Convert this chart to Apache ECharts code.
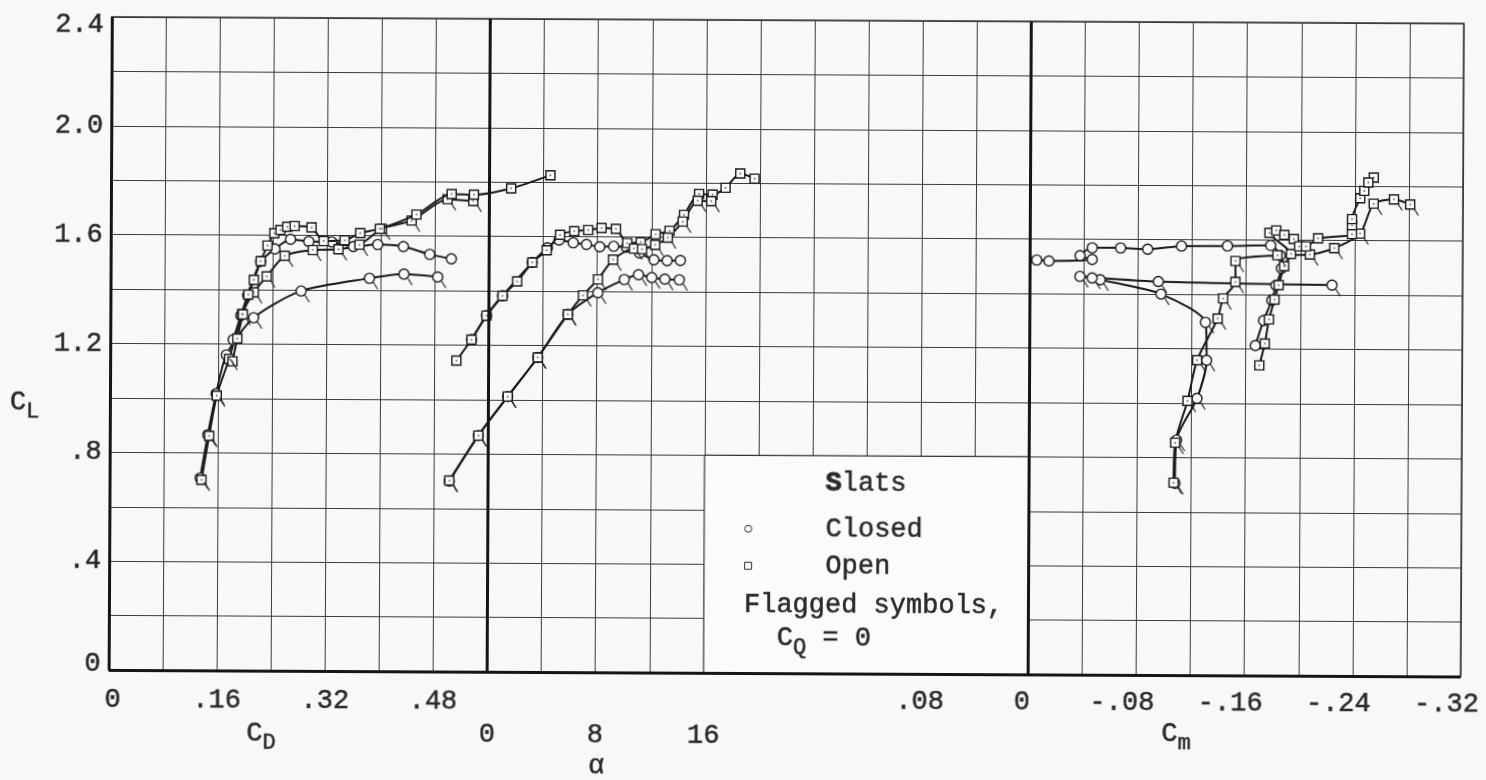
<!DOCTYPE html>
<html>
<head>
<meta charset="utf-8">
<script src="https://cdn.jsdelivr.net/npm/echarts@6/dist/echarts.min.js"></script>
<style>
  html, body { margin: 0; padding: 0; background: #f8f8f8; overflow: hidden; }
  #chart { width: 1486px; height: 780px; transform: rotate(0.28deg); transform-origin: 743px 390px; }
</style>
</head>
<body>
<div id="chart"></div>
<script>
// Lift coefficient against drag coefficient, angle of attack and pitching moment,
// slats closed / open, with and without blowing (flagged symbols: CQ = 0).

// Slats closed, CQ > 0
const closedDrag   = [[0.182,1.216],[0.193,1.305],[0.203,1.379],[0.222,1.504],[0.243,1.55],[0.266,1.586],[0.293,1.578],[0.327,1.577],[0.359,1.56],[0.395,1.568],[0.433,1.561],[0.472,1.533],[0.504,1.517]];
const closedAlpha  = [[-1.28,1.22],[-0.18,1.309],[1.0,1.382],[3.19,1.505],[4.3,1.559],[5.16,1.588],[6.21,1.578],[7.19,1.572],[8.17,1.564],[9.2,1.566],[10.14,1.563],[11.12,1.542],[12.18,1.517],[13.16,1.514],[14.14,1.515]];
const closedMoment = [[-0.167,1.213],[-0.173,1.305],[-0.179,1.379],[-0.182,1.434],[-0.186,1.497],[-0.185,1.544],[-0.178,1.581],[-0.146,1.578],[-0.112,1.577],[-0.087,1.565],[-0.067,1.569],[-0.046,1.569],[-0.037,1.54],[-0.046,1.526],[-0.014,1.52],[-0.005,1.523]];

// Slats closed, CQ = 0
const closedDragOff   = [[0.134,0.707],[0.145,0.866],[0.157,1.017],[0.172,1.16],[0.212,1.297],[0.282,1.396],[0.383,1.444],[0.434,1.46],[0.484,1.45]];
const closedAlphaOff  = [[-2.87,0.70],[-0.74,0.868],[1.42,1.012],[3.63,1.156],[5.84,1.315],[8.05,1.395],[10.0,1.444],[11.05,1.462],[12.03,1.452],[13.0,1.446],[14.07,1.444]];
const closedMomentOff = [[-0.108,0.705],[-0.109,0.864],[-0.124,1.017],[-0.131,1.158],[-0.13,1.297],[-0.097,1.40],[-0.052,1.452],[-0.046,1.458],[-0.037,1.464],[-0.095,1.446],[-0.2235,1.436]];

// Slats open, CQ > 0
const openDrag   = [[0.181,1.136],[0.188,1.22],[0.196,1.309],[0.204,1.382],[0.212,1.436],[0.222,1.505],[0.232,1.5625],[0.242,1.608],[0.251,1.62],[0.261,1.632],[0.272,1.635],[0.297,1.63],[0.315,1.58],[0.346,1.583],[0.369,1.61],[0.398,1.626],[0.452,1.679],[0.504,1.755],[0.537,1.753],[0.592,1.777],[0.650,1.826]];
const openAlpha  = [[-2.39,1.143],[-1.28,1.22],[-0.18,1.309],[1.0,1.382],[2.08,1.435],[3.19,1.505],[4.25,1.55],[5.23,1.607],[6.28,1.621],[7.31,1.625],[8.3,1.633],[9.36,1.63],[10.2,1.578],[11.2,1.581],[12.3,1.611],[13.33,1.624],[14.39,1.683],[15.5,1.76],[16.5,1.758],[17.46,1.783],[18.54,1.836],[19.6,1.817]];
const openMoment = [[-0.170,1.14],[-0.174,1.22],[-0.177,1.309],[-0.181,1.382],[-0.184,1.435],[-0.188,1.505],[-0.193,1.55],[-0.177,1.627],[-0.182,1.636],[-0.188,1.62],[-0.195,1.605],[-0.199,1.578],[-0.204,1.578],[-0.213,1.608],[-0.238,1.624],[-0.238,1.657],[-0.238,1.679],[-0.244,1.756],[-0.247,1.783],[-0.254,1.832],[-0.25,1.814]];

// Slats open, CQ = 0
const openDragOff   = [[0.136,0.70],[0.147,0.862],[0.158,1.01],[0.176,1.145],[0.195,1.31],[0.212,1.39],[0.231,1.449],[0.2575,1.525],[0.299,1.547],[0.337,1.55],[0.368,1.567],[0.401,1.626],[0.445,1.657],[0.498,1.736],[0.536,1.73]];
const openAlphaOff  = [[-2.87,0.702],[-0.74,0.868],[1.42,1.012],[3.63,1.156],[5.84,1.315],[6.95,1.385],[8.05,1.444],[9.16,1.517],[10.7,1.558],[11.3,1.556],[12.27,1.572],[13.2,1.599],[14.3,1.658],[15.4,1.735],[16.4,1.734]];
const openMomentOff = [[-0.107,0.707],[-0.108,0.854],[-0.117,1.008],[-0.124,1.158],[-0.139,1.311],[-0.143,1.385],[-0.152,1.446],[-0.152,1.523],[-0.183,1.545],[-0.207,1.548],[-0.225,1.572],[-0.244,1.626],[-0.254,1.736],[-0.269,1.752],[-0.281,1.734]];

// Tick labels
const liftTicks   = [0, 0.4, 0.8, 1.2, 1.6, 2.0, 2.4];
const dragTicks   = [0, 0.16, 0.32, 0.48];
const alphaTicks  = [0, 8, 16];
const momentTicks = [0.08, 0, -0.08, -0.16, -0.24, -0.32];

const typeFace = 'Liberation Mono';
const typeSize = 27;
const ink = '#1a1a1a';
const textInk = '#2a2a2a';
const gridInk = '#3a3a3a';
const paper = '#f8f8f8';

const flagPath = 'path://M0,0L1.6,0L6,7L4.4,7Z';
const squarePath = 'path://M0,0L10,0L10,10L0,10Z';

function hundredths(v) { return Math.round(v * 100); }
function decimalText(v) {
  const k = hundredths(v);
  if (k === 0) return '0';
  return (k < 0 ? '-' : '') + '.' + String(Math.abs(k)).padStart(2, '0');
}
function liftText(v) {
  const k = Math.round(v * 10);
  if (k === 0) return '0';
  const s = (k / 10).toFixed(1);
  return k < 10 ? s.replace(/^0/, '') : s;
}

const chart = echarts.init(document.getElementById('chart'), null, { renderer: 'canvas' });

function curve(name, data, axis, symbol, size, z) {
  return {
    type: 'line', name, data, xAxisIndex: axis, yAxisIndex: 0,
    smooth: 0.25, symbol, symbolSize: size, showAllSymbol: true,
    lineStyle: { color: ink, width: 2 },
    itemStyle: { color: '#fcfcfc', borderColor: ink, borderWidth: 1.4 },
    emphasis: { disabled: true }, silent: true, animation: false, z: z || 2
  };
}
function flags(data, axis) {
  return {
    type: 'scatter', data, xAxisIndex: axis, yAxisIndex: 0,
    symbol: flagPath, symbolSize: [6, 7], symbolOffset: [6, 7.5],
    itemStyle: { color: ink }, silent: true, animation: false, z: 5
  };
}
function dots(data, axis) {
  return {
    type: 'scatter', data, xAxisIndex: axis, yAxisIndex: 0,
    symbol: 'circle', symbolSize: 2, itemStyle: { color: '#555' },
    silent: true, animation: false, z: 5
  };
}

const heavyLine = { color: '#151515', width: 3, type: 'solid' };
const marker = (lines) => ({
  silent: true, symbol: ['none', 'none'], label: { show: false },
  lineStyle: heavyLine, emphasis: { disabled: true }, animation: false, data: lines
});

const series = [];
// drag panel
series.push(curve('Closed', closedDrag, 0, 'circle', 10));
series.push(curve('Closed', closedDragOff, 0, 'circle', 10));
series.push(Object.assign(curve('Open', openDrag, 0, squarePath, 9, 3),
  { markLine: marker([{ xAxis: 0 }, { xAxis: 0.56 }, { yAxis: 0 }]) }));
series.push(curve('Open', openDragOff, 0, squarePath, 9));
// angle-of-attack panel
series.push(Object.assign(curve('Closed', closedAlpha, 1, 'circle', 10, 1), {
  markArea: {
    silent: true, animation: false,
    itemStyle: { color: '#fbfbfb', borderColor: '#333', borderWidth: 1.2 },
    data: [[{ xAxis: 16, yAxis: 0 }, { xAxis: 40, yAxis: 0.8 }]]
  }
}));
series.push(curve('Closed', closedAlphaOff, 1, 'circle', 10));
series.push(curve('Open', openAlpha, 1, squarePath, 9));
series.push(curve('Open', openAlphaOff, 1, squarePath, 9));
// pitching-moment panel
series.push(curve('Closed', closedMoment, 2, 'circle', 10));
series.push(curve('Closed', closedMomentOff, 2, 'circle', 10));
series.push(Object.assign(curve('Open', openMoment, 2, squarePath, 9, 3),
  { markLine: marker([{ xAxis: 0 }]) }));
series.push(curve('Open', openMomentOff, 2, squarePath, 9));
// flags on the CQ = 0 points
series.push(flags(closedDragOff, 0), flags(openDragOff, 0));
series.push(flags(closedAlphaOff, 1), flags(openAlphaOff, 1));
series.push(flags(closedMomentOff, 2), flags(openMomentOff, 2));
// centre dots of the square symbols
series.push(dots(openDrag, 0), dots(openDragOff, 0), dots(openAlpha, 1), dots(openAlphaOff, 1), dots(openMoment, 2), dots(openMomentOff, 2));

const labelBase = { fontFamily: typeFace, fontSize: typeSize, color: textInk, textBorderColor: textInk, textBorderWidth: 0.5 };
const inkText = { fontFamily: typeFace, fontSize: typeSize, fill: textInk, stroke: textInk, lineWidth: 0.5 };

const legendBase = {
  orient: 'vertical', left: 740, itemWidth: 15, itemHeight: 7,
  selectedMode: false, formatter: (n) => '    ' + n,
  textStyle: Object.assign({}, labelBase),
  itemStyle: { color: '#fcfcfc', borderColor: '#333', borderWidth: 1 }
};

const subText = (main, sub, x, y) => ({
  type: 'text', x, y, z: 20, silent: true,
  style: {
    text: '{c|' + main + '}{s|' + sub + '}',
    align: 'left', verticalAlign: 'middle',
    rich: {
      c: Object.assign({}, inkText),
      s: Object.assign({}, inkText, { fontSize: 22, padding: [18, 0, 0, 0] })
    }
  }
});
const plainText = (text, x, y) => ({
  type: 'text', x, y, z: 20, silent: true,
  style: Object.assign({ text, align: 'left', verticalAlign: 'middle' }, inkText)
});

chart.setOption({
  backgroundColor: paper,
  animation: false,
  grid: { left: 110, top: 20, width: 1352, height: 653, show: true, borderColor: '#2a2a2a', borderWidth: 1.5, backgroundColor: 'transparent' },
  legend: [
    Object.assign({}, legendBase, { top: 510, data: [{ name: 'Closed', icon: 'circle' }] }),
    Object.assign({}, legendBase, { top: 547, data: [{ name: 'Open', icon: squarePath }] })
  ],
  xAxis: [
    {
      type: 'value', min: 0, max: 2.0, interval: 0.08, position: 'bottom',
      axisLine: { show: false }, axisTick: { show: false },
      splitLine: { show: true, lineStyle: { color: gridInk, width: 1 } },
      axisLabel: Object.assign({}, labelBase, {
        margin: 16, showMaxLabel: false,
        formatter: (v) => {
          const k = hundredths(v);
          if (!dragTicks.some(t => hundredths(t) === k)) return '';
          return k === 0 ? '{zero|0}' : decimalText(v);
        },
        rich: { zero: Object.assign({}, labelBase, { padding: [0, 0, 0, 8] }) }
      })
    },
    {
      type: 'value', min: -28, max: 72, interval: 4, position: 'bottom', offset: 33,
      axisLine: { show: false }, axisTick: { show: false }, splitLine: { show: false },
      axisLabel: Object.assign({}, labelBase, {
        margin: 16,
        formatter: (v) => alphaTicks.includes(Math.round(v)) ? String(Math.round(v)) : ''
      })
    },
    {
      type: 'value', min: -0.32, max: 0.68, interval: 0.04, inverse: true, position: 'bottom',
      axisLine: { show: false }, axisTick: { show: false }, splitLine: { show: false },
      axisLabel: Object.assign({}, labelBase, {
        margin: 14, showMinLabel: true,
        formatter: (v) => {
          const k = hundredths(v);
          if (!momentTicks.some(t => hundredths(t) === k)) return '';
          if (k < 0) return '{neg|' + decimalText(v) + '}';
          if (k === 0) return '{zero|0}';
          return decimalText(v);
        },
        rich: {
          neg: Object.assign({}, labelBase, { padding: [0, 28, 0, 0] }),
          zero: Object.assign({}, labelBase, { padding: [0, 12, 0, 0] })
        }
      })
    }
  ],
  yAxis: {
    type: 'value', min: 0, max: 2.4, interval: 0.2,
    axisLine: { show: false }, axisTick: { show: false },
    splitLine: { show: true, lineStyle: { color: gridInk, width: 1 } },
    axisLabel: Object.assign({}, labelBase, {
      margin: 8,
      formatter: (v) => {
        const k = Math.round(v * 10);
        if (!liftTicks.some(t => Math.round(t * 10) === k)) return '';
        const s = liftText(v);
        if (k === 24) return '{top|' + s + '}';
        if (k === 0) return '{low|' + s + '}';
        return s;
      },
      rich: {
        top: Object.assign({}, labelBase, { padding: [16, 0, 0, 0] }),
        low: Object.assign({}, labelBase, { padding: [0, 0, 12, 0] })
      }
    })
  },
  graphic: [
    subText('C', 'L', 10, 406),
    subText('C', 'D', 248, 736),
    plainText('\u03b1', 590, 767),
    subText('C', 'm', 1163, 732),
    {
      type: 'text', x: 826, y: 483, z: 20, silent: true,
      style: {
        text: '{b|S}{n|lats}', align: 'left', verticalAlign: 'middle',
        rich: {
          b: Object.assign({}, inkText, { fontWeight: 'bold', lineWidth: 0.8 }),
          n: Object.assign({}, inkText)
        }
      }
    },
    plainText('Flagged symbols,', 745, 605),
    {
      type: 'text', x: 778, y: 638, z: 20, silent: true,
      style: {
        text: '{c|C}{s|Q}{c| = 0}', align: 'left', verticalAlign: 'middle',
        rich: {
          c: Object.assign({}, inkText),
          s: Object.assign({}, inkText, { fontSize: 22, padding: [18, 0, 0, 0] })
        }
      }
    }
  ],
  series
});
</script>
</body>
</html>
